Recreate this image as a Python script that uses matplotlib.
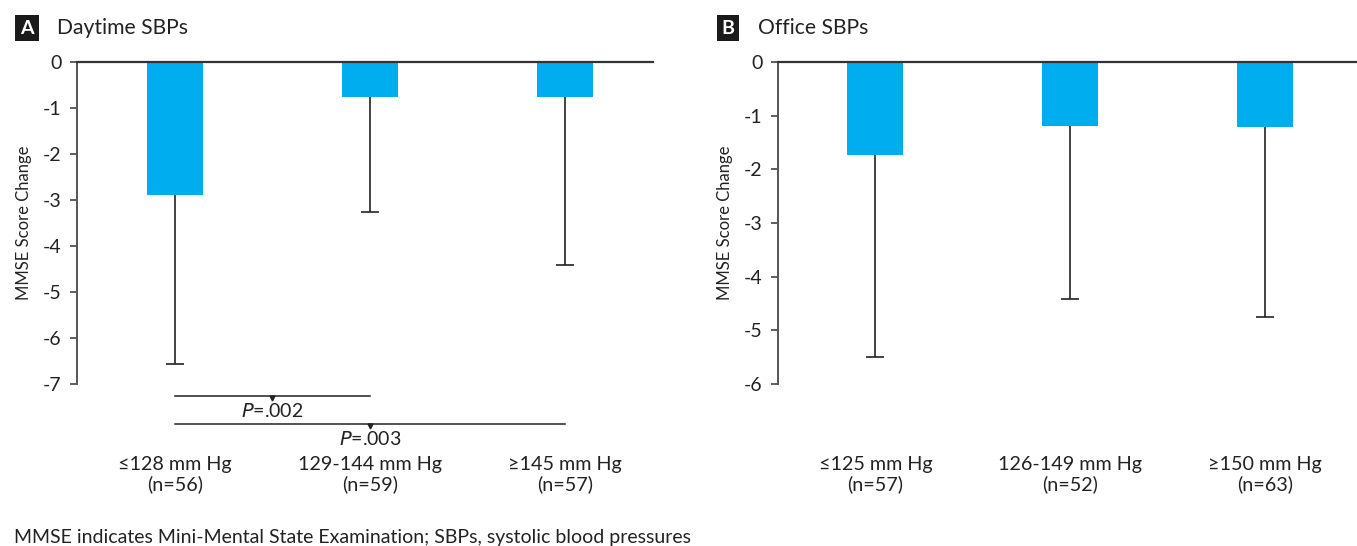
import matplotlib.pyplot as plt
import numpy as np

plt.rcParams['font.family'] = ['Lato', 'DejaVu Sans']

# panel A: daytime SBP groups
labels_a = ["≤128 mm Hg\n(n=56)", "129-144 mm Hg\n(n=59)", "≥145 mm Hg\n(n=57)"]
mean_a = [-2.89, -0.77, -0.77]
low_a = [-6.56, -3.25, -4.42]

# panel B: office SBP groups
labels_b = ["≤125 mm Hg\n(n=57)", "126-149 mm Hg\n(n=52)", "≥150 mm Hg\n(n=63)"]
mean_b = [-1.73, -1.20, -1.22]
low_b = [-5.49, -4.42, -4.75]

# P-value brackets for panel A: (from group, to group, text)
brackets = [(0, 1, "$\\it{P}$=.002"), (0, 2, "$\\it{P}$=.003")]

bar_color = "#00AEEF"
W, H = 1357, 546
fig = plt.figure(figsize=(W / 100, H / 100), dpi=100)

ax_a = fig.add_axes([77 / W, 1 - 384 / H, 576 / W, 322 / H])
ax_b = fig.add_axes([778 / W, 1 - 384 / H, 579 / W, 322 / H])


def draw_panel(ax, means, lows, labels, ymin, xmax):
    x = np.arange(len(means))
    ax.bar(x, means, width=0.287, color=bar_color, zorder=2)
    # lower whisker only, with a cap at the end
    ax.vlines(x, lows, means, color='#222222', lw=1.2, zorder=1)
    ax.plot(x, lows, ls='none', marker='_', markersize=13, mew=1.2,
            color='#222222', zorder=1)
    ax.set_xlim(-0.5, xmax)
    ax.set_ylim(ymin, 0)
    ax.set_yticks(range(ymin, 1))
    ax.set_yticklabels([str(v) for v in range(ymin, 1)])
    ax.set_xticks(x)
    ax.set_xticklabels(labels, fontsize=14.2, color='#222222', linespacing=1.12)
    ax.tick_params(axis='x', length=0, pad=52)
    ax.tick_params(axis='y', length=5, width=1.2, color='#444444',
                   labelsize=14, labelcolor='#222222', pad=6)
    for s in ['right', 'bottom']:
        ax.spines[s].set_visible(False)
    ax.spines['top'].set_color('#333333')
    ax.spines['top'].set_linewidth(1.6)
    ax.spines['left'].set_color('#555555')
    ax.spines['left'].set_linewidth(1.4)
    ax.set_ylabel("MMSE Score Change", fontsize=12, color='#222222', labelpad=8)


draw_panel(ax_a, mean_a, low_a, labels_a, -7, 2.45)
draw_panel(ax_b, mean_b, low_b, labels_b, -6, 2.47)

# brackets under panel A
for i, (x0, x1, txt) in enumerate(brackets):
    yl = -7.26 - 0.61 * i
    ax_a.plot([x0, x1], [yl, yl], color='#222222', lw=1.1, clip_on=False)
    xm = (x0 + x1) / 2
    ax_a.plot([xm], [yl - 0.04], marker='v', markersize=3.5, color='#222222',
              clip_on=False)
    ax_a.text(xm, yl - 0.33, txt, ha='center', va='center', fontsize=14,
              color='#222222', clip_on=False)

# panel headings
for letter, title, x0 in [("A", "Daytime SBPs", 12), ("B", "Office SBPs", 713)]:
    fig.text((x0 + 15) / W, 1 - 28 / H, letter, ha='center', va='center',
             fontsize=14, fontweight='bold', color='white',
             bbox=dict(boxstyle='square,pad=0.25', fc='#1a1a1a', ec='none'))
    fig.text((x0 + 45) / W, 1 - 28 / H, title, ha='left', va='center',
             fontsize=15.2, color='#222222')

fig.text(14 / W, 1 - 537 / H, "MMSE indicates Mini-Mental State Examination; SBPs, systolic blood pressures",
         ha='left', va='center', fontsize=14, color='#222222')

fig.savefig("out.png", dpi=100)
